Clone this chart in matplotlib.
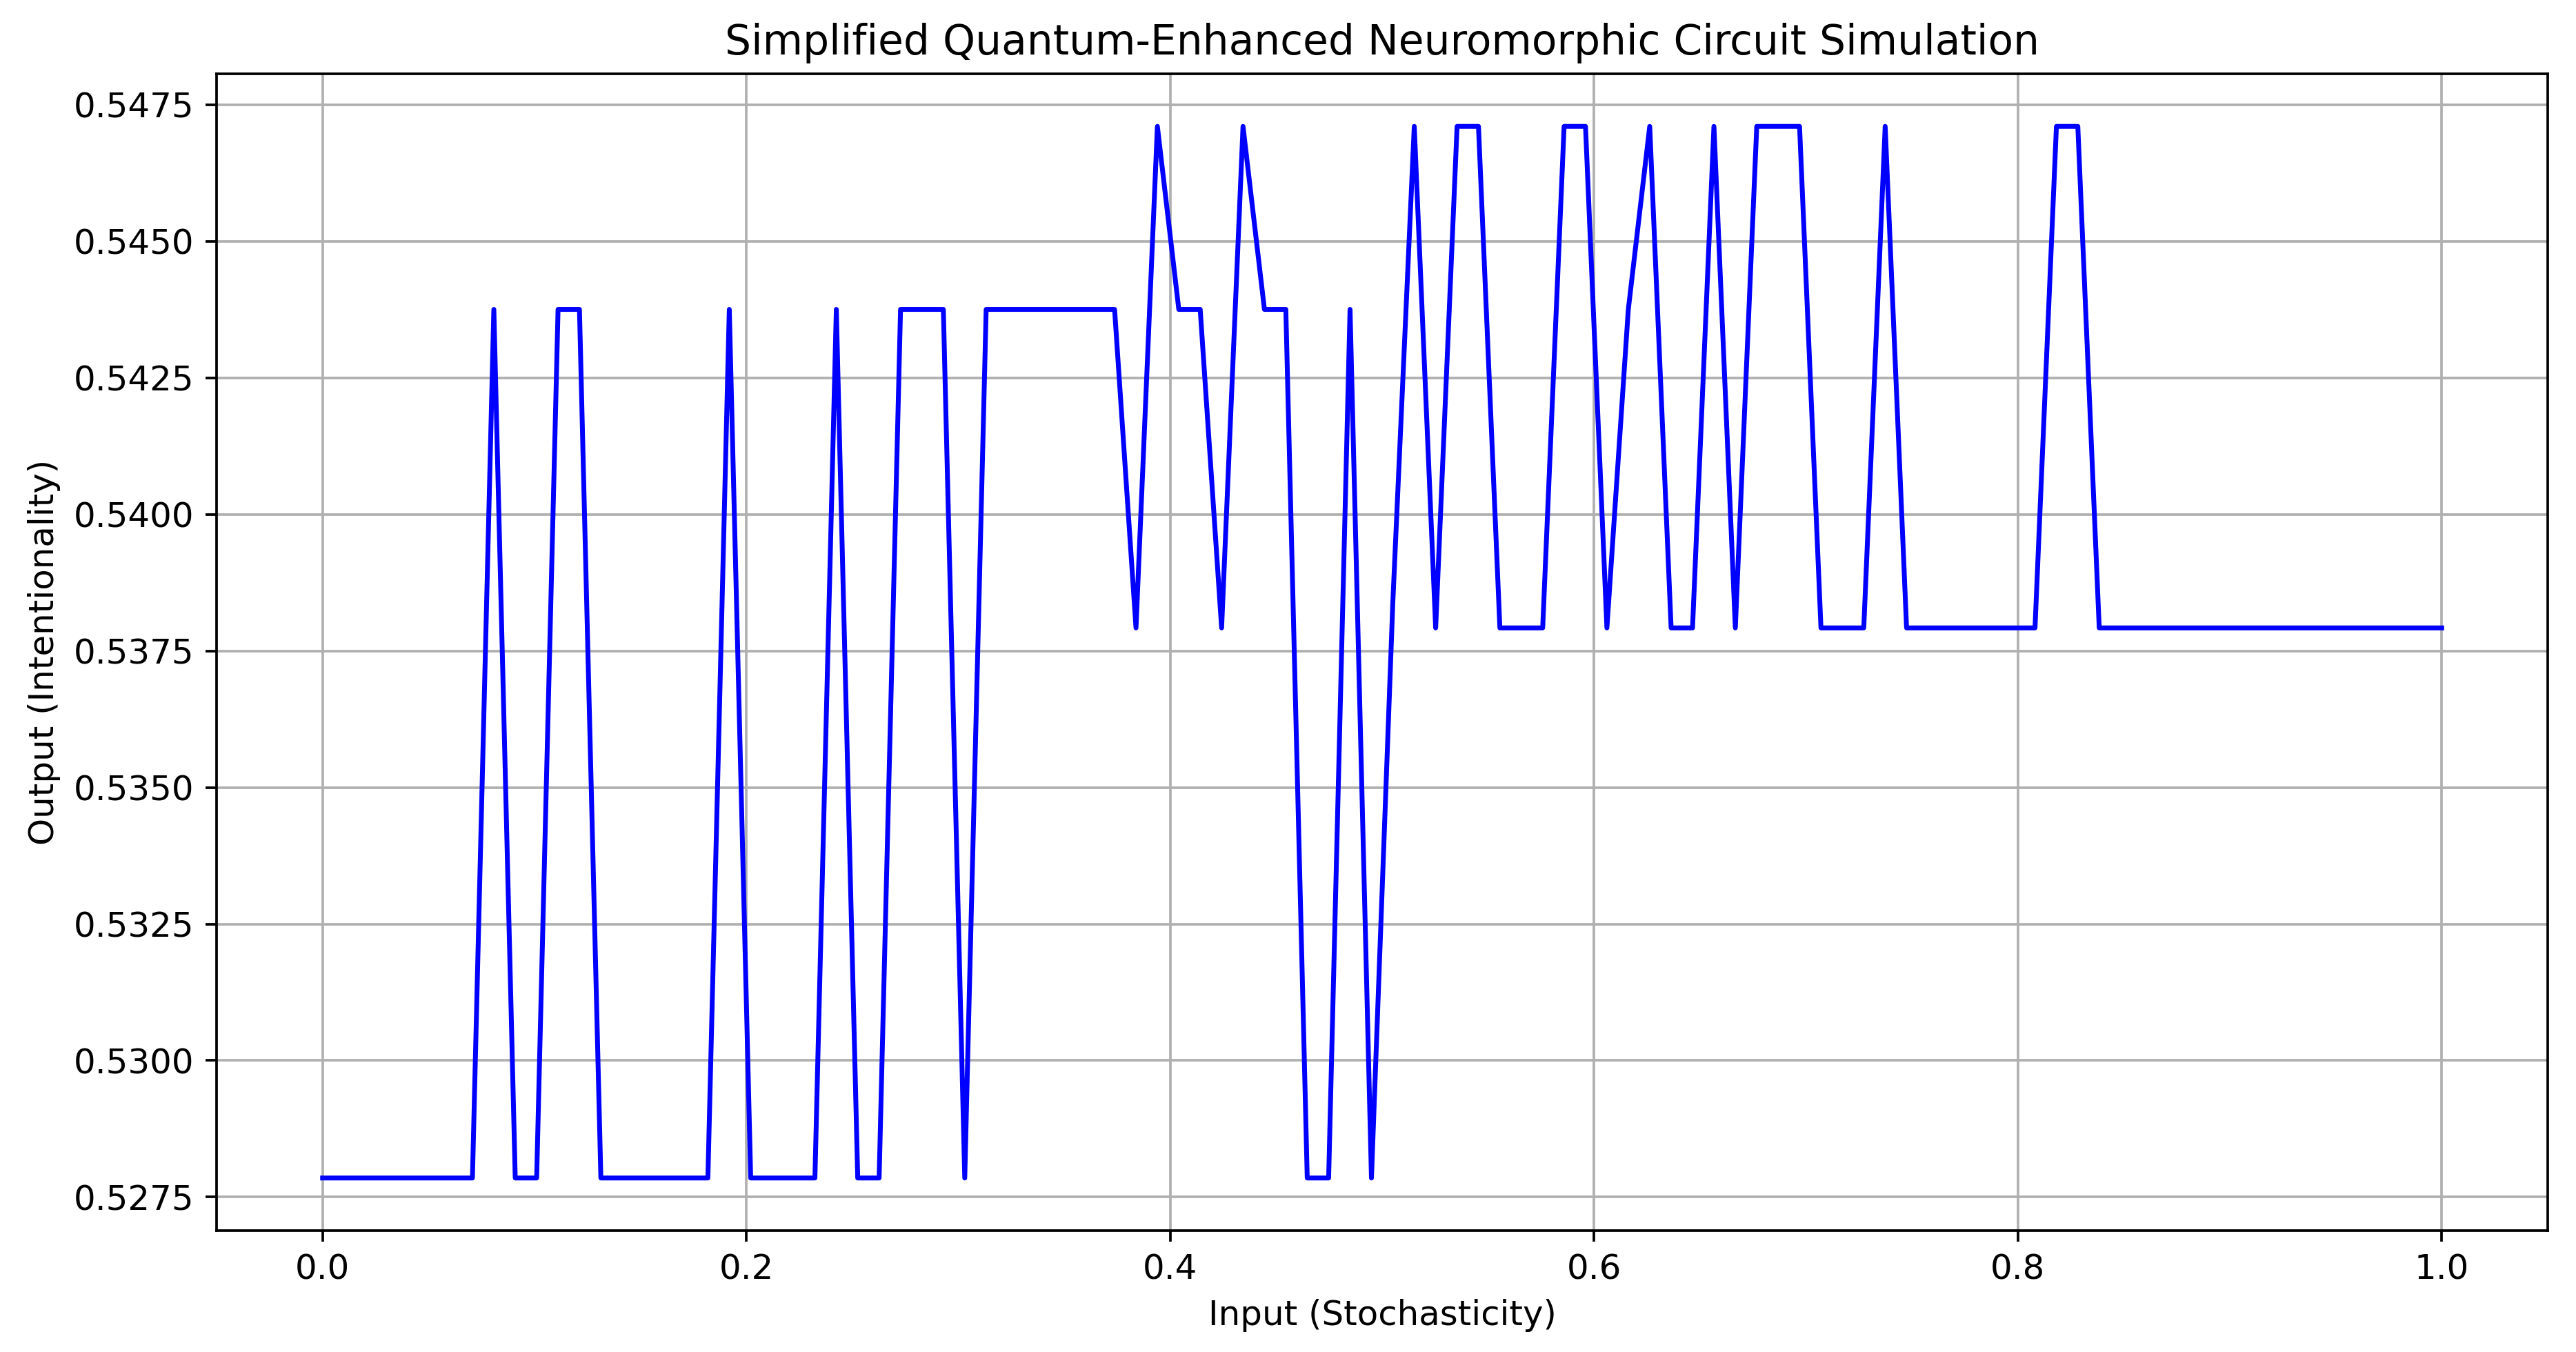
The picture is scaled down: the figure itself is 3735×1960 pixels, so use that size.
import numpy as np
import matplotlib
matplotlib.use("Agg")
import matplotlib.pyplot as plt

# input grid: 100 evenly spaced samples on [0, 1]
x_input = np.linspace(0.0, 1.0, 100)

# output, 10 samples per row
y_output = [
    0.52785, 0.52785, 0.52785, 0.52785, 0.52785, 0.52785, 0.52785, 0.52785, 0.54375, 0.52785,
    0.52785, 0.54375, 0.54375, 0.52785, 0.52785, 0.52785, 0.52785, 0.52785, 0.52785, 0.54375,
    0.52785, 0.52785, 0.52785, 0.52785, 0.54375, 0.52785, 0.52785, 0.54375, 0.54375, 0.54375,
    0.52785, 0.54375, 0.54375, 0.54375, 0.54375, 0.54375, 0.54375, 0.54375, 0.53792, 0.54710,
    0.54375, 0.54375, 0.53792, 0.54710, 0.54375, 0.54375, 0.52785, 0.52785, 0.54375, 0.52785,
    0.53840, 0.54710, 0.53792, 0.54710, 0.54710, 0.53792, 0.53792, 0.53792, 0.54710, 0.54710,
    0.53792, 0.54375, 0.54710, 0.53792, 0.53792, 0.54710, 0.53792, 0.54710, 0.54710, 0.54710,
    0.53792, 0.53792, 0.53792, 0.54710, 0.53792, 0.53792, 0.53792, 0.53792, 0.53792, 0.53792,
    0.53792, 0.54710, 0.54710, 0.53792, 0.53792, 0.53792, 0.53792, 0.53792, 0.53792, 0.53792,
    0.53792, 0.53792, 0.53792, 0.53792, 0.53792, 0.53792, 0.53792, 0.53792, 0.53792, 0.53792,
]

plt.rcParams["font.size"] = 10.7

DPI = 336
fig = plt.figure(figsize=(3735 / DPI, 1960 / DPI), dpi=DPI)
ax = fig.add_subplot(111)
fig.subplots_adjust(left=0.0841, right=0.989, top=0.9454, bottom=0.0898)

ax.plot(x_input, y_output, color="b")
ax.set_title("Simplified Quantum-Enhanced Neuromorphic Circuit Simulation")
ax.set_xlabel("Input (Stochasticity)")
ax.set_ylabel("Output (Intentionality)")
ax.grid(True)

fig.savefig("out.png", dpi=DPI)
